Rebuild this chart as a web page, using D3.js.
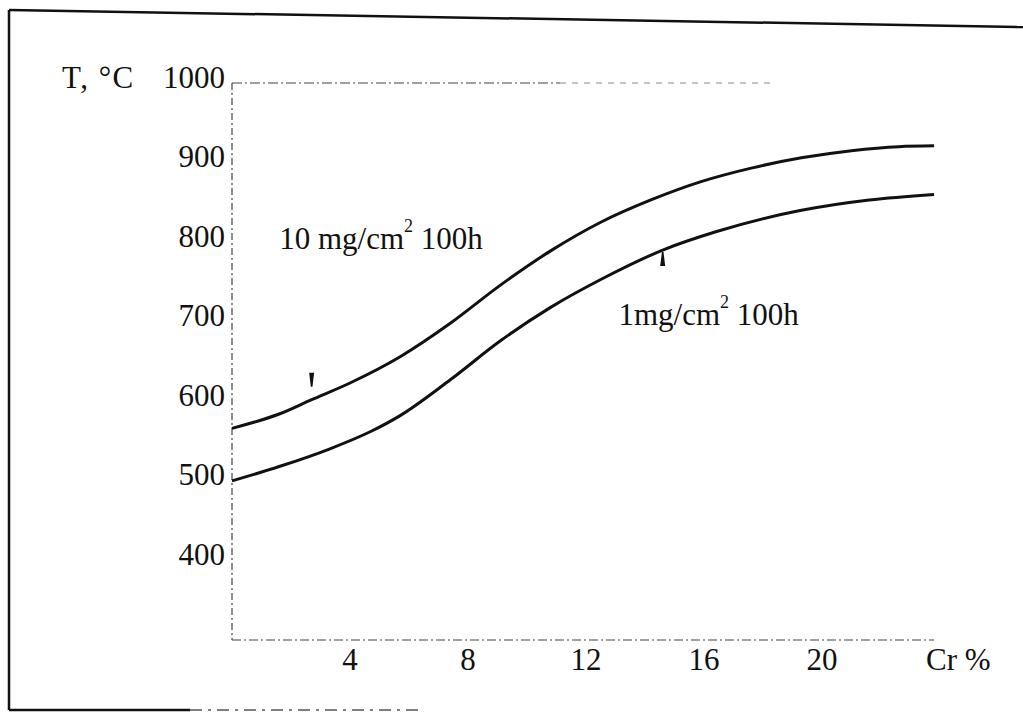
<!DOCTYPE html>
<html lang="en">
<head>
<meta charset="UTF-8">
<title>Oxidation limits vs Cr content</title>
<script src="https://d3js.org/d3.v7.min.js"></script>
<style>
    body { margin: 0; background: #fff; }
    svg text { font-family: "Liberation Serif", "Times New Roman", serif; fill: #111; }
</style>
</head>
<body>
<div id="chart"></div>
<script>
// axis ticks
const crTicks = [4, 8, 12, 16, 20];
const tempTicks = [400, 500, 600, 700, 800, 900, 1000];

// 10 mg/cm2 per 100h curve
const upperCr = [0, 1.6, 2.7, 4, 5.7, 7.4, 9.1, 10.8, 12.5, 14.2, 15.9, 17.6, 19.3, 21, 22.6, 23.8];
const upperT  = [566, 584, 602, 623, 656, 698, 746, 789, 825, 853, 876, 893, 906, 915, 920, 921];

// 1 mg/cm2 per 100h curve
const lowerCr = [0, 1.6, 3.3, 4.7, 5.7, 7.4, 9.1, 10.8, 12.5, 14.6, 16.4, 19.3, 21.6, 23.8];
const lowerT  = [500, 518, 540, 562, 582, 627, 676, 718, 753, 790, 813, 840, 853, 860];

// where the little arrows sit on each curve
const upperArrowCr = 2.7, lowerArrowCr = 14.6;

const W = 1023, H = 713;
const fontSize = 31;

const svg = d3.select("#chart").append("svg")
    .attr("width", W)
    .attr("height", H);

const x = d3.scaleLinear().domain([0, 24]).range([232, 940]);
const y = d3.scaleLinear().domain([300, 1000]).range([640, 83]);

// outer frame (scanned page edge)
svg.append("line").attr("x1", 9).attr("y1", 10).attr("x2", 9).attr("y2", 710)
    .attr("stroke", "#111").attr("stroke-width", 2.5);
svg.append("line").attr("x1", 9).attr("y1", 10).attr("x2", W).attr("y2", 27)
    .attr("stroke", "#111").attr("stroke-width", 2.5);
svg.append("line").attr("x1", 9).attr("y1", 710).attr("x2", 190).attr("y2", 710)
    .attr("stroke", "#111").attr("stroke-width", 2.5);
svg.append("line").attr("x1", 190).attr("y1", 710).attr("x2", 420).attr("y2", 710)
    .attr("stroke", "#555").attr("stroke-width", 1.5).attr("stroke-dasharray", "12,6,3,6");

// plot box: dashed left, top and bottom edges
const x0 = x(0), yTop = y(1000), yBot = y(300);
svg.append("line").attr("x1", x0).attr("y1", yTop).attr("x2", x0).attr("y2", yBot)
    .attr("stroke", "#444").attr("stroke-width", 1.2).attr("stroke-dasharray", "7,3,2,3");
svg.append("line").attr("x1", x0).attr("y1", yTop).attr("x2", 560).attr("y2", yTop)
    .attr("stroke", "#444").attr("stroke-width", 1.2).attr("stroke-dasharray", "10,3,2,3");
svg.append("line").attr("x1", 560).attr("y1", yTop).attr("x2", 770).attr("y2", yTop)
    .attr("stroke", "#888").attr("stroke-width", 1).attr("stroke-dasharray", "6,6");
svg.append("line").attr("x1", x0).attr("y1", yBot).attr("x2", x(23.8)).attr("y2", yBot)
    .attr("stroke", "#444").attr("stroke-width", 1.2).attr("stroke-dasharray", "9,3,2,3");

// tick labels
svg.append("g").selectAll("text")
    .data(tempTicks)
    .enter().append("text")
    .attr("x", 225)
    .attr("y", d => y(d) - 6)
    .attr("text-anchor", "end")
    .attr("dominant-baseline", "central")
    .attr("font-size", fontSize)
    .text(d => d);

svg.append("g").selectAll("text")
    .data(crTicks)
    .enter().append("text")
    .attr("x", d => x(d))
    .attr("y", 659)
    .attr("text-anchor", "middle")
    .attr("dominant-baseline", "central")
    .attr("font-size", fontSize)
    .text(d => d);

svg.append("text")
    .attr("x", 62).attr("y", y(1000) - 6)
    .attr("dominant-baseline", "central")
    .attr("font-size", fontSize)
    .attr("letter-spacing", 1.5)
    .text("T, °C");

svg.append("text")
    .attr("x", 926).attr("y", 659)
    .attr("dominant-baseline", "central")
    .attr("font-size", fontSize)
    .text("Cr %");

// curves
const line = d3.line()
    .x(d => x(d[0]))
    .y(d => y(d[1]))
    .curve(d3.curveMonotoneX);

const upper = upperCr.map((c, i) => [c, upperT[i]]);
const lower = lowerCr.map((c, i) => [c, lowerT[i]]);

[upper, lower].forEach(pts => {
    svg.append("path")
        .datum(pts)
        .attr("d", line)
        .attr("fill", "none")
        .attr("stroke", "#111")
        .attr("stroke-width", 3);
});

// curve labels
function curveLabel(px, py, main) {
    const t = svg.append("text")
        .attr("x", px).attr("y", py)
        .attr("dominant-baseline", "central")
        .attr("font-size", fontSize);
    t.append("tspan").text(main);
    t.append("tspan").attr("font-size", 18).attr("dy", -12).text("2");
    t.append("tspan").attr("dy", 12).text(" 100h");
}
curveLabel(x(1.6), y(800) - 4, "10 mg/cm");
curveLabel(x(13.1), y(710), "1mg/cm");

// small arrow marks pointing at the curves
function interpT(cs, ts, c) {
    const i = d3.bisectRight(cs, c) - 1;
    const t = (c - cs[i]) / (cs[i + 1] - cs[i]);
    return ts[i] + t * (ts[i + 1] - ts[i]);
}
const ua = [x(upperArrowCr), y(interpT(upperCr, upperT, upperArrowCr))];
svg.append("path")
    .attr("d", `M${ua[0] - 2.5},${ua[1] - 27} L${ua[0] + 2.5},${ua[1] - 27} L${ua[0] + 0.8},${ua[1] - 13} L${ua[0] - 0.8},${ua[1] - 13} Z`)
    .attr("fill", "#111");

const la = [x(lowerArrowCr), y(interpT(lowerCr, lowerT, lowerArrowCr))];
svg.append("path")
    .attr("d", `M${la[0] - 0.8},${la[1] + 2} L${la[0] + 0.8},${la[1] + 2} L${la[0] + 2.5},${la[1] + 16} L${la[0] - 2.5},${la[1] + 16} Z`)
    .attr("fill", "#111");
</script>
</body>
</html>
